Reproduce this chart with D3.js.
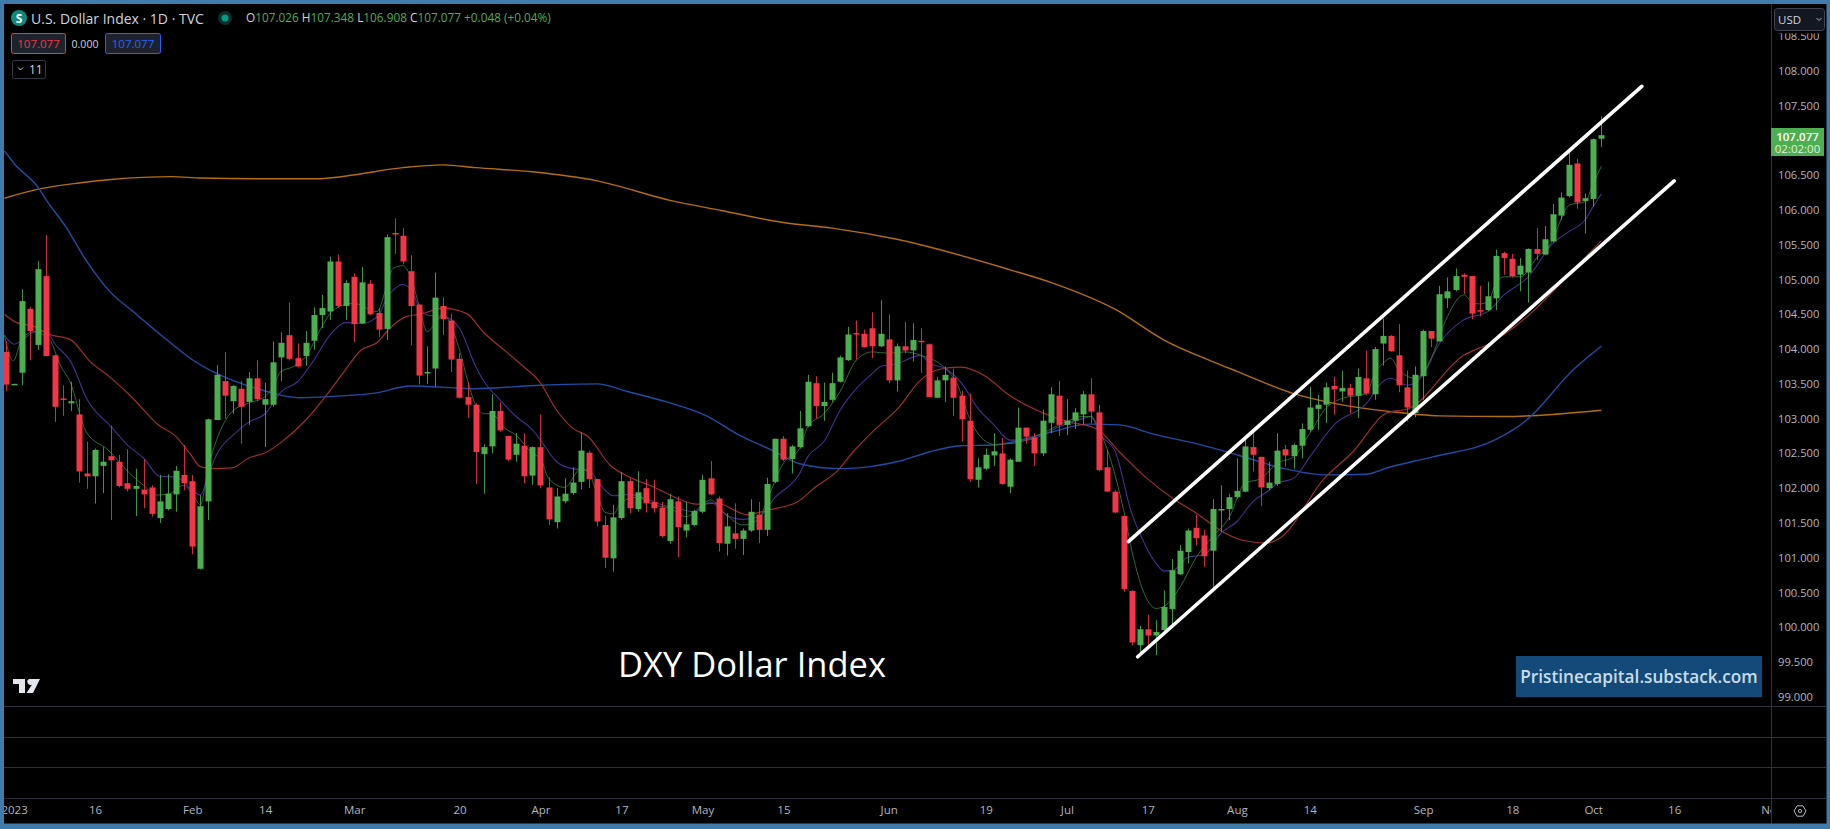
<!DOCTYPE html>
<html>
<head>
<meta charset="utf-8">
<script src="https://cdn.jsdelivr.net/npm/d3@7"></script>
<style>
  html, body { margin: 0; padding: 0; background: #000; overflow: hidden; }
  text { font-family: "Open Sans", "Noto Sans", sans-serif; }
</style>
</head>
<body>
<svg id="chart"></svg>
<script>
// candles, one per bar
const opens = [
  103.96,103.49,103.66,104.58,104.06,105.05,103.91,103.29,103.22,103.06,
  102.21,102.17,102.32,102.46,102.38,102.07,101.99,101.98,102.01,101.57,
  101.70,101.91,102.19,102.10,100.84,101.81,102.98,103.54,103.25,103.43,
  103.24,103.58,103.20,103.20,103.88,104.20,103.87,103.90,104.12,104.49,
  104.54,105.26,104.62,105.04,104.37,104.94,104.52,104.29,105.67,105.63,
  105.12,104.64,103.66,103.72,104.62,104.41,103.86,103.31,103.20,102.49,
  102.60,103.11,102.75,102.48,102.61,102.18,102.59,102.01,101.51,101.81,
  101.93,102.09,102.51,102.13,101.47,100.99,101.57,102.10,101.70,102.00,
  101.80,101.72,101.24,101.81,101.39,101.47,101.66,102.14,101.85,101.20,
  101.35,101.27,101.39,101.62,101.40,102.09,102.71,102.42,102.59,102.89,
  103.51,103.18,103.27,103.53,103.84,104.23,104.22,104.30,104.04,104.14,
  103.55,104.04,103.98,104.12,104.07,103.30,103.55,103.59,103.33,102.97,
  102.12,102.28,102.47,102.50,102.02,102.38,102.87,102.73,102.50,102.94,
  103.33,102.91,102.97,103.06,103.35,103.09,102.30,101.95,101.60,100.52,
  99.74,99.97,99.88,99.96,100.26,100.76,101.08,101.43,101.32,101.10,
  101.68,101.70,101.87,101.95,102.59,102.45,102.00,102.06,102.56,102.46,
  102.61,102.84,103.14,103.20,103.47,103.39,103.44,103.33,103.58,103.35,
  104.08,104.19,103.91,103.45,103.08,103.61,104.26,104.11,104.73,104.85,
  105.07,105.05,104.56,104.56,104.73,105.38,105.30,105.07,105.10,105.44,
  105.36,105.55,105.92,106.20,106.67,106.13,106.16,107.026
];
const highs = [
  104.11,103.50,104.86,104.61,105.27,105.64,103.92,103.48,103.53,103.28,
  102.67,102.57,102.59,102.90,102.48,102.56,102.28,102.41,102.04,102.19,
  102.20,102.32,102.62,102.19,101.90,103.00,103.77,103.96,103.48,103.54,
  103.67,103.84,103.52,104.11,104.24,104.67,104.08,104.26,104.60,104.78,
  105.33,105.36,104.99,105.09,105.18,104.99,104.59,105.65,105.88,105.74,
  105.35,104.65,104.04,105.10,104.74,104.51,103.94,103.52,103.22,102.63,
  103.35,103.23,102.75,102.79,102.79,102.60,103.06,102.16,102.00,102.14,
  102.30,102.80,102.54,102.13,101.60,101.76,102.23,102.14,102.24,102.13,
  102.12,101.80,101.92,101.88,101.80,101.69,102.19,102.39,101.88,101.64,
  101.78,101.42,101.84,101.80,102.15,102.71,102.75,102.62,103.11,103.63,
  103.61,103.52,103.66,103.91,104.32,104.41,104.28,104.53,104.70,104.50,
  104.08,104.39,104.37,104.30,104.08,103.60,103.75,103.72,103.40,103.36,
  102.43,102.57,102.79,102.72,102.43,103.16,102.87,102.79,103.13,103.45,
  103.54,103.28,103.15,103.40,103.58,103.20,102.55,101.97,101.60,100.53,
  100.02,100.18,100.10,100.53,100.98,101.18,101.42,101.62,101.40,101.84,
  102.04,101.92,102.43,102.74,102.79,102.45,102.38,102.79,102.62,102.64,
  102.93,103.46,103.34,103.52,103.60,103.69,103.50,103.72,103.98,104.03,
  104.44,104.20,104.36,103.69,103.75,104.28,104.26,104.91,105.03,105.16,
  105.09,105.05,104.91,104.97,105.43,105.40,105.37,105.31,105.45,105.74,
  105.77,106.09,106.25,106.84,106.74,106.24,107.03,107.348
];
const lows = [
  103.40,103.49,103.48,103.84,103.99,103.90,102.95,103.04,103.11,102.08,
  101.99,101.78,101.93,101.54,102.01,101.95,101.60,101.71,101.59,101.50,
  101.68,101.66,101.97,101.05,100.83,101.54,102.98,103.00,103.07,102.64,
  102.91,103.25,102.59,103.17,103.54,103.84,103.74,103.76,103.99,104.30,
  104.42,104.59,104.42,104.10,104.36,104.49,104.17,104.13,105.37,105.22,
  104.05,103.49,103.50,103.46,104.20,103.67,103.29,103.01,102.06,101.92,
  102.50,102.81,102.39,102.38,102.07,102.05,102.00,101.47,101.42,101.78,
  101.90,101.98,102.00,101.45,100.85,100.80,101.54,101.64,101.66,101.65,
  101.65,101.29,101.20,101.01,101.29,101.45,101.64,101.90,101.09,101.03,
  101.13,101.04,101.37,101.21,101.31,102.07,102.39,102.21,102.57,102.88,
  103.00,102.97,103.24,103.52,103.83,103.85,104.02,103.87,104.03,103.51,
  103.39,103.94,103.82,103.66,103.31,103.29,103.24,103.04,102.67,102.09,
  102.01,102.26,102.32,102.05,101.93,102.38,102.64,102.32,102.46,102.79,
  102.75,102.76,102.85,102.91,102.93,102.24,101.95,101.64,100.51,99.74,
  99.60,99.74,99.60,99.94,100.02,100.75,100.92,101.18,100.87,100.58,
  101.37,101.54,101.85,101.94,102.24,101.74,101.97,102.03,102.31,102.28,
  102.43,102.81,102.84,102.94,103.06,103.24,103.08,103.01,103.34,103.27,
  103.76,103.96,103.38,102.96,103.02,103.27,104.03,104.11,104.59,104.83,
  104.79,104.43,104.47,104.55,104.56,105.07,105.03,104.83,104.67,105.28,
  105.35,105.53,105.86,106.18,106.02,105.66,106.05,106.908
];
const closes = [
  103.49,103.50,104.69,104.26,105.15,103.90,103.17,103.27,103.25,102.24,
  102.17,102.55,102.38,102.40,102.03,101.99,102.03,101.91,101.63,101.81,
  101.92,102.25,102.07,101.16,101.74,102.99,103.63,103.33,103.47,103.17,
  103.58,103.28,103.28,103.81,104.09,103.86,103.75,104.09,104.49,104.59,
  105.26,104.62,104.95,104.36,104.96,104.50,104.28,105.61,105.65,105.26,
  104.62,103.62,103.67,104.74,104.43,103.85,103.30,103.20,102.52,102.59,
  103.11,102.83,102.41,102.64,102.17,102.59,102.04,101.55,101.88,101.92,
  102.08,102.54,102.13,101.52,101.00,101.58,102.10,101.71,101.94,101.78,
  101.71,101.31,101.84,101.44,101.48,101.67,102.12,101.91,101.21,101.45,
  101.27,101.39,101.66,101.40,102.06,102.71,102.41,102.60,102.86,103.53,
  103.18,103.24,103.51,103.88,104.21,104.22,104.03,104.04,104.22,103.55,
  104.04,103.98,104.13,104.10,103.31,103.55,103.63,103.30,102.99,102.13,
  102.30,102.48,102.53,102.06,102.41,102.87,102.74,102.50,102.97,103.35,
  102.91,102.97,103.09,103.35,103.10,102.26,101.95,101.65,100.55,99.78,
  99.97,99.88,99.93,100.29,100.82,101.10,101.39,101.28,101.02,101.70,
  101.70,101.87,101.96,102.60,102.48,102.01,102.08,102.54,102.47,102.62,
  102.85,103.16,103.20,103.45,103.42,103.44,103.33,103.60,103.36,104.00,
  104.19,103.97,103.48,103.16,103.63,104.26,104.15,104.79,104.83,105.05,
  105.04,104.51,104.54,104.76,105.34,105.31,105.05,105.20,105.44,105.37,
  105.58,105.94,106.18,106.65,106.11,106.17,107.02,107.077
];

// moving averages, read at the bars below
const greenBars = [-0.2,0.9,1.9,3.4,5.4,6.7,7.9,9.9,12.6,15.3,17,18.6,20.2,21.9,23,24,25,26,27.9,29.9,31.9,33,33.9,35.5,37,39,40.4,42.9,45.8,47,47.8,49,49.9,51,52,53,54,56,57,57.9,59,60,61.4,63,65,66,67,69,71,72,73,74,75,76,78,80,82,84,86.4,87,89,91,93,94,96,98,99,101,103,105,107,109,111,113,116,117.4,119,120,122,124,126,128,131,133,134,135,136.3,138,139.2,140.4,142,143,145,147,149,151,153,155,157,159,161,163,165,168,169,170,171,172,174,175,176,178,180,181,182,183,184,185,187,189,191,192,193,195,196,197];
const greenValues = [104.20,103.83,104.13,104.25,104.13,103.77,103.53,102.81,102.55,102.21,102.04,101.90,101.92,102.04,101.92,101.76,102.31,102.69,103.10,103.22,103.31,103.46,103.67,103.75,103.89,104.32,104.56,104.66,104.54,104.90,105.16,105.20,105.06,104.63,104.25,104.37,104.49,103.99,103.55,103.22,103.07,103.07,102.88,102.76,102.50,102.43,102.14,102.01,102.28,102.21,101.92,101.65,101.63,101.80,101.87,101.76,101.71,101.59,101.80,101.83,101.61,101.47,101.56,101.83,102.36,102.57,102.88,103.07,103.39,103.84,103.96,103.94,103.96,103.91,103.72,103.51,103.00,102.79,102.63,102.64,102.69,102.79,102.96,103.03,103.03,102.84,102.45,101.69,101.01,100.53,100.27,100.30,100.58,101.01,101.30,101.57,102.07,102.14,102.36,102.45,102.79,103.15,103.29,103.36,103.65,103.79,103.87,103.70,103.58,103.65,103.87,104.47,104.78,104.68,104.65,104.68,104.95,105.04,105.04,105.31,105.57,105.86,106.07,106.12,106.38,106.63];

const purpleBars = [-0.2,1,2,3.6,5,6,8,10,13,15,17,19,21,23,24,25,26,28,30,32,34,36,38,40,42,44,46,47,48,49,50,51,52,54,56,58,59,61,63,65,66,68,70,72,73,75,77,79,81,83,85,87,89,91,93,95,98,99,101,103,105,107,108,110,113,114,116,118,120,122,124,126,128,130,133,134,135,137,139,140,142,143,144,146,148,150,152,154,156,157,159,161,164,168,170,171,173,175,177,180,183,185,188,191,193,195,196,197];
const purpleValues = [104.20,104.07,104.13,104.25,104.25,104.08,103.82,103.28,102.88,102.62,102.43,102.17,102.16,101.97,101.90,102.19,102.48,102.76,102.95,103.07,103.39,103.53,103.84,104.20,104.38,104.37,104.49,104.73,104.87,104.93,104.85,104.61,104.49,104.47,104.30,103.75,103.54,103.27,103.03,102.84,102.69,102.38,102.28,102.26,102.11,101.89,101.91,101.85,101.76,101.71,101.66,101.80,101.61,101.55,101.59,101.87,102.21,102.45,102.67,103.12,103.43,103.65,103.75,103.79,103.91,103.80,103.72,103.51,103.15,102.91,102.69,102.69,102.76,102.88,103.00,103.03,102.79,102.52,101.64,101.35,100.92,100.81,100.81,101.01,101.04,101.35,101.52,101.81,101.97,102.07,102.14,102.45,102.91,103.22,103.53,103.58,103.48,103.63,104.08,104.42,104.54,104.78,105.04,105.52,105.69,105.86,106.05,106.23];

const redBars = [-0.2,1.3,3.4,5.4,7.9,10.4,12.8,15.7,18.6,21,22.7,24,25.6,27.9,29.9,32.2,34.2,36.7,39.4,41.6,43.9,45.8,47.4,49.5,51.1,54,56.9,58.9,61.8,63.9,65.9,68,70,71.9,74.6,77,79.9,82.4,85.3,87.8,91.5,94.3,97.7,100,102.6,104.6,107,110.4,112.8,115.3,117.8,121.1,123.6,127.3,131,134.7,137.5,140.9,144.1,147,150.3,152.7,155.7,157.3,162.8,166.3,170.5,173.3,180,183.2,189,192,197];
const redValues = [104.50,104.38,104.33,104.21,104.14,103.82,103.60,103.29,102.93,102.74,102.50,102.31,102.28,102.29,102.43,102.52,102.68,102.94,103.31,103.65,103.99,104.09,104.30,104.47,104.50,104.59,104.51,104.25,103.96,103.75,103.53,103.12,102.86,102.74,102.33,102.16,102.02,101.88,101.77,101.78,101.62,101.69,101.80,102.02,102.24,102.52,102.81,103.18,103.54,103.71,103.74,103.60,103.36,103.12,102.96,102.85,102.52,102.14,101.85,101.64,101.37,101.25,101.21,101.28,102.14,102.52,103.08,103.15,103.91,104.08,104.59,104.95,105.56];

const blueBars = [-0.2,1,4,5,7.5,9.6,12.8,15.7,19.9,23.1,26,28.9,32.2,34.2,36.3,40.4,45.8,49.9,55.7,57.7,66,73,76.7,81.6,86.5,90.6,94.7,98,103,106.7,110.4,114,117.8,121.9,128.5,133.8,137.5,141.6,147,152.3,157.5,163,168,170.5,176.2,184,187.8,193.6,197];
const blueValues = [106.85,106.67,106.32,106.14,105.74,105.33,104.83,104.54,104.13,103.84,103.65,103.51,103.39,103.33,103.30,103.32,103.37,103.47,103.44,103.43,103.48,103.50,103.39,103.24,103.04,102.76,102.54,102.35,102.28,102.31,102.39,102.52,102.61,102.62,102.79,102.92,102.91,102.78,102.64,102.47,102.29,102.19,102.20,102.29,102.45,102.70,102.98,103.71,104.04];

const orangeBars = [-0.2,4,9,13,20.5,24,32,38.5,42,49,54,58,65,73,82,88.5,96,102,110,124,129,137,143,149,152,159,164,171,177,185,191,197];
const orangeValues = [106.17,106.30,106.39,106.44,106.48,106.46,106.45,106.45,106.49,106.61,106.65,106.61,106.55,106.42,106.14,105.99,105.82,105.74,105.58,105.14,104.96,104.57,104.13,103.82,103.68,103.36,103.22,103.10,103.04,103.03,103.06,103.12];

// the two drawn trend lines, [bar, price]
const upperChannel = [[138.6, 101.23], [202, 107.78]];
const lowerChannel = [[139.75, 99.575], [206, 106.42]];

// axis labels (107.000 sits under the last price tag in the picture, so it is left out)
const priceTicks = [99,99.5,100,100.5,101,101.5,102,102.5,103,103.5,104,104.5,105,105.5,106,106.5,107.5,108,108.5];
const timeTickBars = [1,11,23,32,43,56,66,76,86,96,109,121,131,141,152,161,175,186,196,206,218];
const timeTickLabels = ["2023","16","Feb","14","Mar","20","Apr","17","May","15","Jun","19","Jul","17","Aug","14","Sep","18","Oct","16","Nov"];

const width = 1830, height = 829;
const plot = { left: 4, right: 1771, top: 4, bottom: 706 };
const GREEN = "#4caf50", RED = "#f23645", AXIS_TEXT = "#b2b5be", GRID = "#2f323c", FRAME = "#3f7cac";

const x = d3.scaleLinear().domain([0, 197]).range([6, 1601.3]);
const y = d3.scaleLinear().domain([99, 108]).range([696.7, 71]);

const svg = d3.select("#chart").attr("width", width).attr("height", height)
  .style("display", "block").style("background", "#000");

svg.append("defs").append("clipPath").attr("id", "plot-area")
  .append("rect").attr("x", plot.left).attr("y", plot.top)
  .attr("width", plot.right - plot.left).attr("height", plot.bottom - plot.top);
svg.select("defs").append("clipPath").attr("id", "time-area")
  .append("rect").attr("x", plot.left).attr("y", 798)
  .attr("width", plot.right - plot.left).attr("height", 26);

const main = svg.append("g").attr("clip-path", "url(#plot-area)");

// moving averages go under the candles
const maLine = d3.line().x((d) => x(d[0])).y((d) => y(d[1])).curve(d3.curveMonotoneX);
const maSeries = [
  { bars: orangeBars, values: orangeValues, color: "#b56d12", w: 1.4 },
  { bars: blueBars, values: blueValues, color: "#1f4da6", w: 1.4 },
  { bars: redBars, values: redValues, color: "#a02e2e", w: 1.2 },
  { bars: purpleBars, values: purpleValues, color: "#44308f", w: 1.1 },
  { bars: greenBars, values: greenValues, color: "#2f6b34", w: 1 },
];
main.selectAll("path.ma").data(maSeries).enter().append("path")
  .attr("class", "ma")
  .attr("fill", "none")
  .attr("stroke", (d) => d.color)
  .attr("stroke-width", (d) => d.w)
  .attr("d", (d) => maLine(d.bars.map((b, i) => [b, d.values[i]])));

const candles = opens.map((o, i) => ({ i, o, h: highs[i], l: lows[i], c: closes[i] }));
const candleColor = (d) => (d.c >= d.o ? GREEN : RED);

main.selectAll("line.wick").data(candles).enter().append("line")
  .attr("class", "wick")
  .attr("x1", (d) => Math.round(x(d.i)) + 0.5)
  .attr("x2", (d) => Math.round(x(d.i)) + 0.5)
  .attr("y1", (d) => y(d.h))
  .attr("y2", (d) => y(d.l))
  .attr("stroke", candleColor)
  .attr("stroke-width", 1)
  .attr("opacity", 0.85);

main.selectAll("rect.body").data(candles).enter().append("rect")
  .attr("class", "body")
  .attr("x", (d) => Math.round(x(d.i)) - 2.5)
  .attr("width", 6)
  .attr("y", (d) => y(Math.max(d.o, d.c)))
  .attr("height", (d) => Math.max(1.5, Math.abs(y(d.o) - y(d.c))))
  .attr("fill", candleColor);

// white channel
const channelLine = d3.line().x((d) => x(d[0])).y((d) => y(d[1]));
main.selectAll("path.channel").data([upperChannel, lowerChannel]).enter().append("path")
  .attr("class", "channel")
  .attr("d", channelLine)
  .attr("stroke", "#fff")
  .attr("stroke-width", 3.6)
  .attr("stroke-linecap", "round")
  .attr("fill", "none");

// pane separators
svg.selectAll("line.pane").data([706.5, 737.5, 767.5, 798.5]).enter().append("line")
  .attr("class", "pane")
  .attr("x1", plot.left).attr("x2", 1826)
  .attr("y1", (d) => d).attr("y2", (d) => d)
  .attr("stroke", GRID);
svg.append("line")
  .attr("x1", 1771.5).attr("x2", 1771.5).attr("y1", plot.top).attr("y2", 824)
  .attr("stroke", GRID);

// price axis
const priceAxis = svg.append("g")
  .attr("transform", "translate(1771,0)")
  .call(d3.axisRight(y).tickValues(priceTicks).tickFormat(d3.format(".3f")).tickSize(0).tickPadding(7));
priceAxis.select(".domain").remove();
priceAxis.selectAll("text")
  .attr("fill", AXIS_TEXT)
  .style("font-size", "11.2px")
  .style("font-family", '"Open Sans", "Noto Sans", sans-serif');

// time axis
const timeAxis = svg.append("g")
  .attr("clip-path", "url(#time-area)")
  .append("g")
  .attr("transform", "translate(0,798)")
  .call(d3.axisBottom(x).tickValues(timeTickBars)
    .tickFormat((d) => timeTickLabels[timeTickBars.indexOf(d)]).tickSize(0).tickPadding(8));
timeAxis.select(".domain").remove();
timeAxis.selectAll("text")
  .attr("fill", AXIS_TEXT)
  .style("font-size", "11.5px")
  .style("font-family", '"Open Sans", "Noto Sans", sans-serif');

// settings hexagon in the corner
const corner = svg.append("g").attr("transform", "translate(1800,811)");
corner.append("path")
  .attr("d", "M-6,0L-3,-5.2H3L6,0L3,5.2H-3Z")
  .attr("fill", "none").attr("stroke", AXIS_TEXT);
corner.append("circle").attr("r", 1.6).attr("fill", "none").attr("stroke", AXIS_TEXT);

// USD button, it covers the top of the 108.500 label
svg.append("rect").attr("x", 1772).attr("y", 4).attr("width", 54).attr("height", 29.5).attr("fill", "#000");
svg.append("rect")
  .attr("x", 1774.5).attr("y", 8.5).attr("width", 50).attr("height", 22).attr("rx", 3)
  .attr("fill", "#131722").attr("stroke", "#434651");
svg.append("text").attr("x", 1778).attr("y", 23.5).attr("fill", "#d1d4dc")
  .style("font-size", "11.5px").text("USD");
svg.append("path").attr("d", "M1816.5,18l2.5,2.5l2.5,-2.5").attr("fill", "none").attr("stroke", "#b2b5be");

// last price tag
svg.append("rect").attr("x", 1771).attr("y", 128).attr("width", 53).attr("height", 28).attr("fill", GREEN);
svg.append("text").attr("x", 1797.5).attr("y", 140.5).attr("text-anchor", "middle").attr("fill", "#fff")
  .style("font-size", "11.5px").style("font-weight", 600).text("107.077");
svg.append("text").attr("x", 1797.5).attr("y", 153).attr("text-anchor", "middle").attr("fill", "#dff0e0")
  .style("font-size", "11.5px").text("02:02:00");

// legend
svg.append("circle").attr("cx", 19).attr("cy", 18).attr("r", 8).attr("fill", "#0d8a7c");
svg.append("text").attr("x", 19).attr("y", 22.5).attr("text-anchor", "middle").attr("fill", "#fff")
  .style("font-size", "12px").style("font-weight", 700).text("S");
svg.append("text").attr("x", 31).attr("y", 24).attr("fill", "#d1d4dc")
  .style("font-size", "14px").text("U.S. Dollar Index · 1D · TVC");
svg.append("circle").attr("cx", 225).attr("cy", 18).attr("r", 7).attr("fill", "#0c2f2b");
svg.append("circle").attr("cx", 225).attr("cy", 18).attr("r", 3.5).attr("fill", "#089981");

const ohlc = [["O", "107.026"], ["H", "107.348"], ["L", "106.908"], ["C", "107.077"]];
const legendText = svg.append("text").attr("x", 246).attr("y", 22).style("font-size", "11.8px");
ohlc.forEach(([k, v]) => {
  legendText.append("tspan").attr("fill", "#d1d4dc").text(k);
  legendText.append("tspan").attr("fill", GREEN).text(v + " ");
});
legendText.append("tspan").attr("fill", GREEN).text("+0.048 (+0.04%)");

// value badges
svg.append("rect").attr("x", 11.5).attr("y", 33.5).attr("width", 54).attr("height", 20).attr("rx", 2)
  .attr("fill", "#1e222d").attr("stroke", RED);
svg.append("text").attr("x", 38.5).attr("y", 48).attr("text-anchor", "middle").attr("fill", RED)
  .style("font-size", "11.5px").text("107.077");
svg.append("text").attr("x", 85).attr("y", 48).attr("text-anchor", "middle").attr("fill", "#d1d4dc")
  .style("font-size", "10.5px").text("0.000");
svg.append("rect").attr("x", 105.5).attr("y", 33.5).attr("width", 55).attr("height", 20).attr("rx", 2)
  .attr("fill", "#1e222d").attr("stroke", "#2962ff");
svg.append("text").attr("x", 133).attr("y", 48).attr("text-anchor", "middle").attr("fill", "#2962ff")
  .style("font-size", "11.5px").text("107.077");
svg.append("rect").attr("x", 12.5).attr("y", 60.5).attr("width", 33).attr("height", 18).attr("rx", 2)
  .attr("fill", "none").attr("stroke", "#363a45");
svg.append("path").attr("d", "M18,67.5l2.5,2.5l2.5,-2.5").attr("fill", "none").attr("stroke", "#d1d4dc");
svg.append("text").attr("x", 29).attr("y", 74).attr("fill", "#d1d4dc")
  .style("font-size", "12px").text("11");

// TradingView mark
svg.append("path")
  .attr("transform", "translate(13,679)")
  .attr("d", "M0,0H12V14H6V5H0ZM16,0H27L20,14H13.5L19,5.5A3,3 0 1 1 16,0Z")
  .attr("fill", "#e4e6ee");

// annotations on the picture
svg.append("text").attr("x", 752).attr("y", 677).attr("text-anchor", "middle").attr("fill", "#fff")
  .style("font-size", "34.5px").text("DXY Dollar Index");
svg.append("rect").attr("x", 1516).attr("y", 656).attr("width", 246).attr("height", 41).attr("fill", "#134a7a");
svg.append("text").attr("x", 1639).attr("y", 682.5).attr("text-anchor", "middle").attr("fill", "#c9dcea")
  .style("font-size", "17.2px").style("font-weight", 600).text("Pristinecapital.substack.com");

// window frame
svg.append("path")
  .attr("fill-rule", "evenodd")
  .attr("fill", FRAME)
  .attr("d", `M0,0H${width}V${height}H0ZM4,4V823.5H1826.5V4Z`);
</script>
</body>
</html>
